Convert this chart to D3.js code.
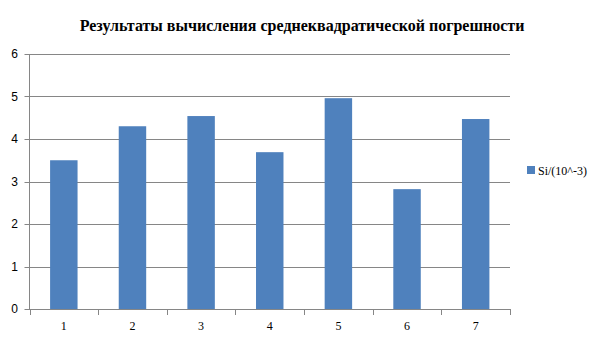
<!DOCTYPE html>
<html>
<head>
<meta charset="utf-8">
<script src="https://cdn.jsdelivr.net/npm/d3@7"></script>
<style>
  body { margin: 0; background: #fff; }
</style>
</head>
<body>
<div id="chart"></div>
<script>
// data
const categories = ['1', '2', '3', '4', '5', '6', '7'];
const values = [3.5, 4.3, 4.54, 3.69, 4.96, 2.82, 4.47];
const yTicks = [0, 1, 2, 3, 4, 5, 6];
const seriesName = 'Si/(10^-3)';
const title = 'Результаты вычисления среднеквадратической погрешности';

const width = 605, height = 340;
const margin = {top: 54, right: 95, bottom: 31, left: 29.5};
const barColor = '#4f81bd';
const gridColor = '#868686';
const serif = "'Liberation Serif', 'Times New Roman', Times, serif";
const sans = "'Liberation Sans', Arial, sans-serif";

const svg = d3.select('#chart').append('svg')
  .attr('width', width)
  .attr('height', height)
  .style('font-family', serif);

const x = d3.scaleBand()
  .domain(categories)
  .range([margin.left, width - margin.right])
  .paddingInner(0.6)
  .paddingOuter(0.3);

const y = d3.scaleLinear()
  .domain([0, 6])
  .range([height - margin.bottom, margin.top]);

// gridlines
svg.append('g')
  .selectAll('line')
  .data(yTicks)
  .join('line')
    .attr('x1', margin.left - 5)
    .attr('x2', width - margin.right)
    .attr('y1', d => Math.round(y(d)) + 0.5)
    .attr('y2', d => Math.round(y(d)) + 0.5)
    .attr('stroke', gridColor);

// y axis labels (sans in the original)
svg.append('g')
  .selectAll('text')
  .data(yTicks)
  .join('text')
    .attr('x', 18)
    .attr('y', d => y(d))
    .attr('dy', '0.35em')
    .attr('text-anchor', 'end')
    .attr('font-family', sans)
    .attr('font-size', 12)
    .text(d => d);

// bars
svg.append('g')
  .selectAll('rect')
  .data(values)
  .join('rect')
    .attr('x', (d, i) => x(categories[i]))
    .attr('width', x.bandwidth())
    .attr('y', d => y(d))
    .attr('height', d => y(0) - y(d))
    .attr('fill', barColor);

// y axis line
svg.append('line')
  .attr('x1', margin.left).attr('x2', margin.left)
  .attr('y1', margin.top).attr('y2', y(0) + 0.5)
  .attr('stroke', gridColor);

// x axis: boundary ticks
const step = x.step();
const boundaries = d3.range(categories.length + 1).map(i => margin.left + i * step);
svg.append('g')
  .selectAll('line')
  .data(boundaries)
  .join('line')
    .attr('x1', d => Math.round(d) + 0.5)
    .attr('x2', d => Math.round(d) + 0.5)
    .attr('y1', Math.round(y(0)))
    .attr('y2', Math.round(y(0)) + 6)
    .attr('stroke', gridColor);

svg.append('g')
  .selectAll('text')
  .data(categories)
  .join('text')
    .attr('x', d => x(d) + x.bandwidth() / 2)
    .attr('y', 330)
    .attr('text-anchor', 'middle')
    .attr('font-family', serif)
    .attr('font-size', 12)
    .text(d => d);

// title
svg.append('text')
  .attr('x', 302)
  .attr('y', 31)
  .attr('text-anchor', 'middle')
  .attr('font-family', serif)
  .attr('font-size', 16)
  .attr('font-weight', 'bold')
  .text(title);

// legend
const legend = svg.append('g').attr('transform', 'translate(527, 166)');
legend.append('rect')
  .attr('width', 8).attr('height', 8)
  .attr('fill', barColor);
legend.append('text')
  .attr('x', 11)
  .attr('y', 9)
  .attr('font-family', serif)
  .attr('font-size', 12)
  .text(seriesName);
</script>
</body>
</html>
